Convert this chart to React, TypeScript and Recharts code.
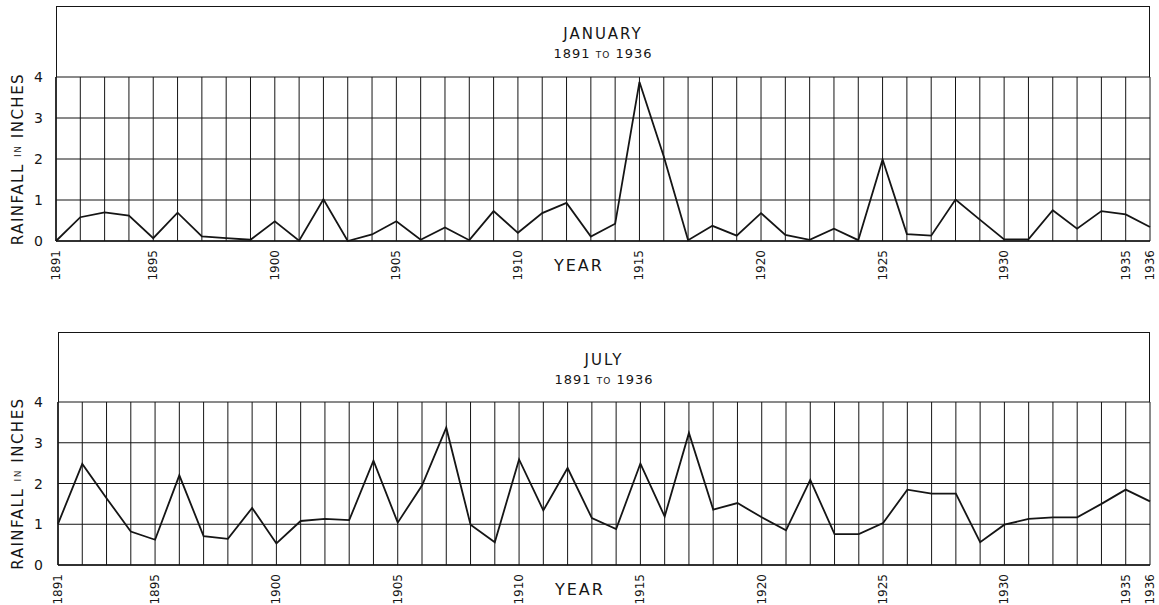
import { CartesianGrid, Label, Line, LineChart, XAxis, YAxis } from "recharts";

const years = [
  1891, 1892, 1893, 1894, 1895, 1896, 1897, 1898, 1899, 1900, 1901, 1902,
  1903, 1904, 1905, 1906, 1907, 1908, 1909, 1910, 1911, 1912, 1913, 1914,
  1915, 1916, 1917, 1918, 1919, 1920, 1921, 1922, 1923, 1924, 1925, 1926,
  1927, 1928, 1929, 1930, 1931, 1932, 1933, 1934, 1935, 1936,
];

const januaryRain = [
  0, 0.58, 0.7, 0.62, 0.07, 0.69, 0.11, 0.07, 0.03, 0.48, 0.01, 1.02,
  0, 0.16, 0.48, 0.03, 0.33, 0.02, 0.73, 0.2, 0.68, 0.93, 0.11, 0.42,
  3.88, 2.06, 0.02, 0.37, 0.13, 0.68, 0.15, 0.03, 0.3, 0.02, 1.99, 0.17,
  0.13, 1.01, 0.52, 0.04, 0.04, 0.75, 0.3, 0.73, 0.65, 0.34,
];

const julyRain = [
  1.01, 2.48, 1.64, 0.82, 0.62, 2.2, 0.71, 0.64, 1.4, 0.53, 1.08, 1.13,
  1.1, 2.56, 1.04, 1.95, 3.37, 0.99, 0.56, 2.59, 1.34, 2.38, 1.15, 0.88,
  2.49, 1.19, 3.24, 1.36, 1.52, 1.17, 0.85, 2.09, 0.76, 0.76, 1.03, 1.85,
  1.75, 1.75, 0.56, 0.99, 1.13, 1.17, 1.17, 1.5, 1.85, 1.56,
];

const labeledYears = [1891, 1895, 1900, 1905, 1910, 1915, 1920, 1925, 1930, 1935, 1936];
const rainTicks = [0, 1, 2, 3, 4];

const ink = "#151515";
const font = "'DejaVu Sans', sans-serif";

function YearTick(props: any) {
  const { x, y, payload } = props;
  if (!labeledYears.includes(payload.value)) return null;
  return (
    <text
      transform={`translate(${x},${y + 1}) rotate(-90)`}
      textAnchor="end"
      dominantBaseline="central"
      fontSize={12}
      fontFamily={font}
      fill={ink}
    >
      {payload.value}
    </text>
  );
}

function RainTick(props: any) {
  const { y, payload } = props;
  return (
    <text x={43} y={y} textAnchor="end" dominantBaseline="central" fontSize={14} fontFamily={font} fill={ink}>
      {payload.value}
    </text>
  );
}

function RainLabel(props: any) {
  const vb = props.viewBox;
  const cy = vb.y + vb.height / 2;
  return (
    <text
      x={18}
      y={cy}
      transform={`rotate(-90, 18, ${cy})`}
      textAnchor="middle"
      dominantBaseline="central"
      fontSize={15}
      fontFamily={font}
      letterSpacing={1.5}
      fill={ink}
    >
      RAINFALL <tspan fontSize={9}>IN</tspan> INCHES
    </text>
  );
}

function YearLabel(props: any) {
  const vb = props.viewBox;
  return (
    <text
      x={vb.x + vb.width * 0.478}
      y={vb.y + 24}
      textAnchor="middle"
      dominantBaseline="central"
      fontSize={16}
      fontFamily={font}
      letterSpacing={2}
      fill={ink}
    >
      YEAR
    </text>
  );
}

type PanelProps = {
  month: string;
  values: number[];
  top: number;
  height: number;
  plotTop: number;
  frameTop: number;
  left: number;
  axisHeight: number;
};

function RainPanel({ month, values, top, height, plotTop, frameTop, left, axisHeight }: PanelProps) {
  const data = years.map((year, i) => ({ year, rain: values[i] }));
  const right = 1150;
  return (
    <div style={{ position: "absolute", left: 0, top, width: 1159, height }}>
      <div
        style={{
          position: "absolute",
          left,
          top: frameTop,
          width: right - left,
          height: plotTop - frameTop,
          boxSizing: "border-box",
          borderTop: `1.5px solid ${ink}`,
          borderLeft: `1.5px solid ${ink}`,
          borderRight: `1.5px solid ${ink}`,
          textAlign: "center",
          fontFamily: font,
          color: ink,
        }}
      >
        <div style={{ marginTop: 17, fontSize: 15, letterSpacing: 2, lineHeight: "20px" }}>{month}</div>
        <div style={{ fontSize: 13, letterSpacing: 1, lineHeight: "20px" }}>
          1891 <span style={{ fontSize: 9 }}>TO</span> 1936
        </div>
      </div>
      <LineChart
        width={1159}
        height={height}
        data={data}
        margin={{ top: plotTop, right: 1159 - right, left: 0, bottom: 0 }}
        style={{ position: "absolute", left: 0, top: 0 }}
      >
        <CartesianGrid stroke={ink} strokeWidth={1} />
        <XAxis
          dataKey="year"
          type="number"
          domain={[1891, 1936]}
          ticks={years}
          interval={0}
          tick={<YearTick />}
          tickLine={false}
          axisLine={{ stroke: ink, strokeWidth: 1.5 }}
          height={axisHeight}
        >
          <Label content={<YearLabel />} />
        </XAxis>
        <YAxis
          type="number"
          domain={[0, 4]}
          ticks={rainTicks}
          tick={<RainTick />}
          tickLine={false}
          axisLine={{ stroke: ink, strokeWidth: 1.5 }}
          width={left}
        >
          <Label content={<RainLabel />} />
        </YAxis>
        <Line
          type="linear"
          dataKey="rain"
          stroke={ink}
          strokeWidth={1.8}
          dot={false}
          isAnimationActive={false}
        />
      </LineChart>
    </div>
  );
}

export default function App() {
  return (
    <div style={{ position: "absolute", left: 0, top: 0, width: 1159, height: 605, background: "#fff" }}>
      <RainPanel
        month="JANUARY"
        values={januaryRain}
        top={0}
        height={300}
        plotTop={77}
        frameTop={6}
        left={56}
        axisHeight={59}
      />
      <RainPanel
        month="JULY"
        values={julyRain}
        top={320}
        height={285}
        plotTop={82}
        frameTop={12}
        left={58}
        axisHeight={40}
      />
    </div>
  );
}
